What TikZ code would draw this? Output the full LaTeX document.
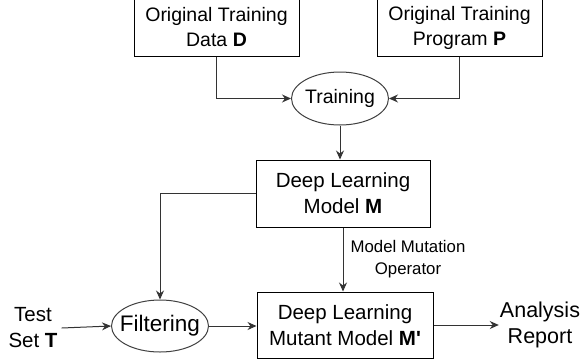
\documentclass[tikz,border=0pt]{standalone}
\usepackage{fontspec}
\setmainfont{Liberation Sans}
\usetikzlibrary{shapes.geometric,arrows.meta}

\begin{document}
\begin{tikzpicture}
[every node/.style={inner sep=0pt},
 box/.style={rectangle, draw=black, line width=1pt, align=center},
 oval/.style={ellipse, draw=black!75, line width=1pt},
 link/.style={line width=1pt, -{Stealth[length=9pt, width=8pt]}, color=black!80}]
\useasboundingbox (0pt, 0pt) rectangle (581pt, -360pt);
\node (D) [box, minimum width=165pt, minimum height=57pt, font=\fontsize{19.5}{25}\selectfont] at (216.5pt, -27.5pt) {Original Training\\Data \textbf{D}};
\node (P) [box, minimum width=165pt, minimum height=57pt, font=\fontsize{19.5}{25}\selectfont] at (459.5pt, -27.5pt) {Original Training\\Program \textbf{P}};
\node (train) [oval, minimum width=97pt, minimum height=53pt, label={[font=\fontsize{19.5}{24}\selectfont]center:Training}] at (340pt, -98.5pt) {};
\node (M) [box, minimum width=174pt, minimum height=67pt, font=\fontsize{20.5}{26}\selectfont] at (343pt, -193.5pt) {Deep Learning\\Model \textbf{M}};
\node (Mp) [box, minimum width=176pt, minimum height=66pt, font=\fontsize{20.5}{26}\selectfont] at (345pt, -325pt) {Deep Learning\\Mutant Model \textbf{M\textquotesingle}};
\node (filt) [oval, minimum width=97pt, minimum height=52pt, label={[font=\fontsize{22.5}{27}\selectfont]center:Filtering}] at (160pt, -326pt) {};
\node (T) [align=center, font=\fontsize{20.5}{26}\selectfont] at (33pt, -328pt) {Test\\Set \textbf{T}};
\node (rep) [align=center, inner sep=1pt, font=\fontsize{21.5}{26}\selectfont] at (540pt, -325pt) {Analysis\\Report};
\node (op) [align=center, font=\fontsize{16.8}{22}\selectfont] at (408pt, -259pt) {Model Mutation\\Operator};
% connectors
\draw [link] (D.south) |- (train.west);
\draw [link] (P.south) |- (train.east);
\draw [link] (train.south) -- (train.south |- M.north);
\draw [link] (M.south) -- (M.south |- Mp.north);
\draw [link] (M.west) -| (filt.north);
\draw [link] ([xshift=4pt]T.east) -- (filt.west);
\draw [link] (filt.east) -- (filt.east -| Mp.west);
\draw [link] (Mp.east) -- (Mp.east -| rep.west);
\end{tikzpicture}
\end{document}
